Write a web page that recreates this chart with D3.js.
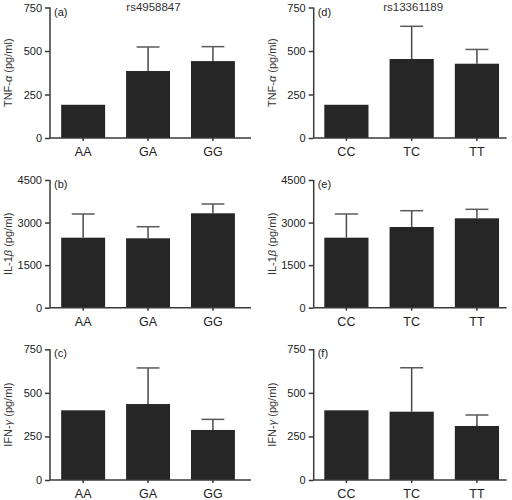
<!DOCTYPE html>
<html><head><meta charset="utf-8">
<script src="https://cdn.jsdelivr.net/npm/d3@7"></script>
<style>body{margin:0;background:#fff;}svg{display:block;font-family:"Liberation Sans",Arial,sans-serif;}</style>
</head><body>
<svg id="c" width="512" height="500"></svg>
<script>
const genotypesA = ["AA", "GA", "GG"];
const genotypesB = ["CC", "TC", "TT"];
const snpTitles = ["rs4958847", "rs13361189"];
const tnfTicks = [0, 250, 500, 750];
const il1Ticks = [0, 1500, 3000, 4500];
const ifnTicks = [0, 250, 500, 750];
const tnfMeanA = [191, 385, 442];
const tnfErrA = [0, 138, 83];
const tnfMeanB = [191, 454, 427];
const tnfErrB = [0, 188, 82];
const il1MeanA = [2467, 2446, 3327];
const il1ErrA = [835, 408, 327];
const il1MeanB = [2467, 2844, 3150];
const il1ErrB = [835, 574, 317];
const ifnMeanA = [400, 436, 287];
const ifnErrA = [0, 207, 61];
const ifnMeanB = [400, 392, 310];
const ifnErrB = [0, 252, 63];

const svg = d3.select("#c");
const cols = [
  {x0: 50, x1: 251, po: 0.21, align: 0.41, labX: 7.5, cats: genotypesA},
  {x0: 313.7, x1: 506.7, po: 0.14, align: 0.58, labX: 272, cats: genotypesB}
];
const rows = [
  {y0: 138, y1: 7.5, ticks: tnfTicks, name: "TNF-", greek: "α"},
  {y0: 307.7, y1: 180, ticks: il1Ticks, name: "IL-1", greek: "β"},
  {y0: 480, y1: 349.3, ticks: ifnTicks, name: "IFN-", greek: "γ"}
];
const panels = [
  {c: 0, r: 0, tag: "(a)", mean: tnfMeanA, err: tnfErrA},
  {c: 0, r: 1, tag: "(b)", mean: il1MeanA, err: il1ErrA},
  {c: 0, r: 2, tag: "(c)", mean: ifnMeanA, err: ifnErrA},
  {c: 1, r: 0, tag: "(d)", mean: tnfMeanB, err: tnfErrB},
  {c: 1, r: 1, tag: "(e)", mean: il1MeanB, err: il1ErrB},
  {c: 1, r: 2, tag: "(f)", mean: ifnMeanB, err: ifnErrB}
];
const axisCol = "#3a3a3a";

panels.forEach(p => {
  const C = cols[p.c], R = rows[p.r];
  const g = svg.append("g");
  const x = d3.scaleBand().domain(C.cats).range([C.x0, C.x1])
    .paddingInner(0.323).paddingOuter(C.po).align(C.align);
  const y = d3.scaleLinear().domain([0, R.ticks[R.ticks.length - 1]]).range([R.y0, R.y1]);
  const data = C.cats.map((k, i) => ({k, m: p.mean[i], e: p.err[i]}));

  g.selectAll("rect.bar").data(data).join("rect")
    .attr("x", d => x(d.k)).attr("width", x.bandwidth())
    .attr("y", d => y(d.m)).attr("height", d => y(0) - y(d.m))
    .attr("fill", "#262626");
  const eb = data.filter(d => d.e > 0);
  g.selectAll("line.ev").data(eb).join("line")
    .attr("x1", d => x(d.k) + x.bandwidth() / 2).attr("x2", d => x(d.k) + x.bandwidth() / 2)
    .attr("y1", d => y(d.m)).attr("y2", d => y(d.m + d.e))
    .attr("stroke", "#4a4a4a").attr("stroke-width", 1.5);
  g.selectAll("line.ec").data(eb).join("line")
    .attr("x1", d => x(d.k) + x.bandwidth() * 0.24).attr("x2", d => x(d.k) + x.bandwidth() * 0.76)
    .attr("y1", d => y(d.m + d.e)).attr("y2", d => y(d.m + d.e))
    .attr("stroke", "#5a5a5a").attr("stroke-width", 1.5);

  const ya = g.append("g").attr("transform", `translate(${C.x0},0)`)
    .call(d3.axisLeft(y).tickValues(R.ticks).tickSize(5).tickPadding(3).tickFormat(d3.format("d")));
  ya.select(".domain").attr("stroke", axisCol).attr("stroke-width", 1.5).attr("d", `M0,${R.y1}V${R.y0}`);
  ya.selectAll(".tick line").attr("stroke", axisCol).attr("stroke-width", 1.5);
  ya.selectAll(".tick text").attr("fill", "#222").attr("font-size", 11)
    .attr("font-family", "Liberation Sans, Arial, sans-serif");

  const xa = g.append("g").attr("transform", `translate(0,${R.y0})`)
    .call(d3.axisBottom(x).tickSize(3).tickPadding(6));
  xa.select(".domain").attr("stroke", axisCol).attr("stroke-width", 1.5).attr("d", `M${C.x0},0H${C.x1}`);
  xa.selectAll(".tick line").attr("stroke", axisCol).attr("stroke-width", 1.5);
  xa.selectAll(".tick text").attr("fill", "#222").attr("font-size", 12.5)
    .attr("font-family", "Liberation Sans, Arial, sans-serif");

  g.append("text").attr("x", C.x0 + 4).attr("y", R.y1 + 4).attr("dominant-baseline", "central")
    .attr("font-size", 11).attr("fill", "#222").text(p.tag);

  const lab = g.append("text")
    .attr("transform", `translate(${C.labX},${(R.y0 + R.y1) / 2}) rotate(-90)`)
    .attr("text-anchor", "middle").attr("dominant-baseline", "central")
    .attr("font-size", 11).attr("fill", "#333");
  lab.append("tspan").text(R.name);
  lab.append("tspan").attr("font-style", "italic").text(R.greek);
  lab.append("tspan").text(" (pg/ml)");

  if (p.r === 0) {
    g.append("text").attr("x", (C.x0 + C.x1) / 2 + 3).attr("y", 7)
      .attr("text-anchor", "middle").attr("dominant-baseline", "central")
      .attr("font-size", 11.5).attr("fill", "#333").text(snpTitles[p.c]);
  }
});
</script>
</body></html>
